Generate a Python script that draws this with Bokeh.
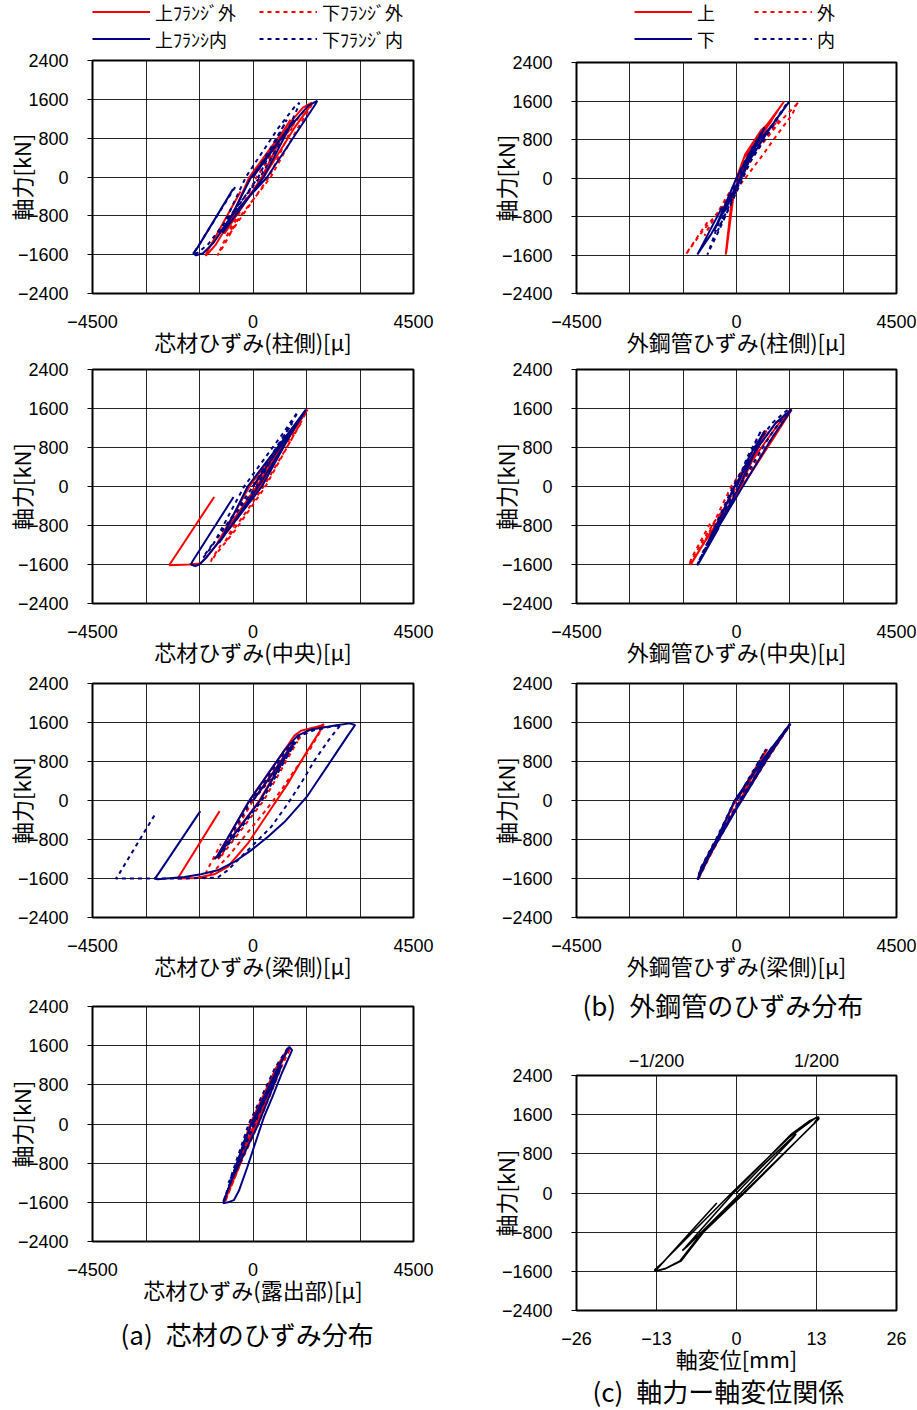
from bokeh.plotting import figure
from bokeh.models import FixedTicker, Legend, LegendItem, Title, LinearAxis
from bokeh.layouts import row, column
from bokeh.embed import file_html
from bokeh.resources import INLINE

RED = "#FF0000"
NAVY = "#000080"
JP = "Noto Sans CJK JP"
NUM = "Liberation Sans"
NAN = float("nan")

# ---------------- tick definitions ----------------
STRAIN_TICKS = [-4500, -3000, -1500, 0, 1500, 3000, 4500]
STRAIN_LABELS = ["−4500", "", "", "0", "", "", "4500"]
FORCE_TICKS = [-2400, -1600, -800, 0, 800, 1600, 2400]
FORCE_LABELS = ["−2400", "−1600", "−800", "0", "800", "1600", "2400"]
DISP_TICKS = [-26, -13, 0, 13, 26]
DISP_LABELS = ["−26", "−13", "0", "13", "26"]
DRIFT_TICKS = [-13, 13]
DRIFT_LABELS = ["−1/200", "1/200"]

# ---------------- legend labels (column-major: col 1 then col 2) ----------------
LEG_A = ["上ﾌﾗﾝｼﾞ外", "上ﾌﾗﾝｼ内", "下ﾌﾗﾝｼﾞ外", "下ﾌﾗﾝｼﾞ内"]
LEG_B = ["上", "下", "外", "内"]

# ---------------- panel (a1) 芯材ひずみ(柱側) ----------------
A1_RS_X = [0, 550, 1050, 1000, 250, -800, -760, -100, 900, 1400, 1650, 1600, 1150, 300, -600, -1050, -1250, -1330, -1300, -350]
A1_RS_Y = [0, 600, 1180, 1120, 0, -1170, -1100, 0, 1000, 1430, 1530, 1460, 1000, 0, -850, -1400, -1570, -1620, -1560, -300]
A1_RD_X = [0, 650, 1200, 1150, 450, -650, -620, 100, 1050, 1500, 1660, 1620, 1250, 500, -400, -850, -1000, -960, -300]
A1_RD_Y = [0, 600, 1180, 1110, 0, -1170, -1100, 0, 1000, 1430, 1515, 1450, 1000, 0, -850, -1450, -1615, -1560, -550]
A1_NS_X = [0, 600, 1150, 1080, 300, -850, -800, -50, 1000, 1550, 1800, 1750, 1300, 400, -600, -1100, -1400, -1600, -1675, -1550, -560]
A1_NS_Y = [0, 600, 1180, 1100, 0, -1150, -1080, 0, 1000, 1470, 1570, 1500, 1000, 0, -800, -1350, -1570, -1615, -1575, -1450, -250]
A1_ND_X = [0, 500, 950, 900, 150, -950, -900, -200, 700, 1150, 1300, 1280, 1000, 200, -700, -1250, -1550, -1675, -1600, -490]
A1_ND_Y = [0, 600, 1180, 1110, 0, -1170, -1100, 0, 1000, 1430, 1530, 1470, 1000, 0, -850, -1380, -1560, -1580, -1500, -195]

# ---------------- panel (a2) 芯材ひずみ(中央) ----------------
A2_RS_X = [0, 750, 1250, 1200, 100, -1000, -950, -100, 1000, 1509, 1480, 1000, 200, -700, -1300, -1480, -1800, -2350, -2300, -1089]
A2_RS_Y = [0, 800, 1300, 1240, 0, -1160, -1100, 0, 1100, 1575, 1530, 1000, 0, -900, -1450, -1580, -1600, -1615, -1560, -215]
A2_RD_X = [0, 850, 1350, 1300, 300, -800, -760, 50, 1100, 1530, 1500, 1100, 350, -500, -1050, -1180, -1150, -900]
A2_RD_Y = [0, 800, 1300, 1240, 0, -1160, -1100, 0, 1100, 1580, 1530, 1000, 0, -900, -1400, -1540, -1480, -1200]
A2_NS_X = [0, 750, 1250, 1200, 150, -950, -900, -150, 1000, 1480, 1460, 1000, 250, -700, -1300, -1500, -1620, -1740, -1700, -547]
A2_NS_Y = [0, 800, 1300, 1240, 0, -1160, -1100, 0, 1100, 1575, 1540, 1000, 0, -900, -1450, -1600, -1630, -1600, -1540, -215]
A2_ND_X = [0, 650, 1100, 1050, 0, -1100, -1050, -250, 850, 1250, 1230, 850, 100, -850, -1300, -1400, -1350, -1100]
A2_ND_Y = [0, 800, 1300, 1240, 0, -1160, -1100, 0, 1100, 1530, 1490, 1000, 0, -900, -1380, -1460, -1400, -1150]

# ---------------- panel (a3) 芯材ひずみ(梁側) ----------------
A3_RS_X = [0, 600, 1150, 1090, 180, -1000, -1080, -1000, -100, 900, 1160, 1347, 1908, 1983, 1900, 1441, 973, 412, -150, -711, -1085, -1600, -2114, -2050, -936]
A3_RS_Y = [0, 620, 1210, 1140, 0, -1150, -1200, -1140, 0, 1050, 1330, 1432, 1534, 1568, 1450, 920, 341, -273, -886, -1364, -1514, -1590, -1602, -1530, -218]
A3_RD_X = [0, 700, 1250, 1190, 300, -900, -980, -900, 0, 1000, 1400, 1700, 2002, 1950, 1600, 1160, 786, 318, -103, -700, -1100, -1366, -1300, -898]
A3_RD_Y = [0, 620, 1210, 1140, 0, -1150, -1200, -1140, 0, 1050, 1350, 1480, 1555, 1500, 1050, 614, 205, -239, -614, -1150, -1450, -1602, -1450, -886]
A3_NS_X = [0, 600, 1160, 1100, 200, -1000, -1085, -1000, -100, 900, 1250, 1600, 2300, 2704, 2863, 2657, 2376, 2096, 1815, 1534, 1254, 880, 412, -56, -524, -992, -1459, -1927, -2676, -2751, -2650, -1478]
A3_NS_Y = [0, 600, 1200, 1130, 0, -1150, -1200, -1140, 0, 1050, 1330, 1450, 1540, 1582, 1548, 1330, 1023, 716, 409, 102, -136, -443, -750, -1023, -1261, -1432, -1514, -1568, -1616, -1602, -1500, -218]
A3_ND_X = [0, 650, 1200, 1140, 250, -950, -1030, -950, -50, 950, 1300, 1700, 2330, 2470, 2400, 2143, 1721, 1394, 973, 505, -196, -711, -992, -2000, -3000, -3845, -3750, -2751]
A3_ND_Y = [0, 600, 1200, 1130, 0, -1150, -1200, -1140, 0, 1050, 1320, 1440, 1534, 1548, 1500, 1261, 818, 409, -68, -545, -1057, -1432, -1582, -1600, -1602, -1602, -1500, -290]

# ---------------- panel (a4) 芯材ひずみ(露出部) ----------------
A4_RS_X = [0, 480, 760, 720, 100, -600, -640, -590, -80, 650, 1000, 980, 700, 150, -350, -700, -810, -780, -350]
A4_RS_Y = [0, 750, 1200, 1130, 0, -1150, -1200, -1130, 0, 1150, 1570, 1520, 1100, 200, -700, -1350, -1600, -1540, -800]
A4_RD_X = [0, 520, 820, 780, 150, -560, -600, -550, -30, 700, 1050, 1020, 750, 200, -300, -650, -780, -750, -400]
A4_RD_Y = [0, 750, 1200, 1130, 0, -1150, -1200, -1130, 0, 1150, 1560, 1500, 1100, 200, -700, -1350, -1590, -1520, -900]
A4_NS_X = [0, 500, 800, 760, 150, -600, -650, -600, -50, 700, 1021, 1096, 816, 536, 303, 23, -163, -396, -536, -700, -835, -800, -180]
A4_NS_Y = [0, 750, 1200, 1120, 0, -1150, -1200, -1130, 0, 1150, 1576, 1508, 1052, 541, 133, -480, -889, -1365, -1556, -1600, -1617, -1560, -210]
A4_ND_X = [0, 450, 740, 700, 50, -650, -690, -640, -120, 620, 980, 960, 680, 120, -380, -720, -840, -810, -300]
A4_ND_Y = [0, 750, 1200, 1130, 0, -1150, -1200, -1130, 0, 1150, 1560, 1510, 1100, 200, -700, -1350, -1600, -1540, -600]

# ---------------- panel (b1) 外鋼管ひずみ(柱側) ----------------
B1_RS_X = [0, 250, 700, 1000, 900, 400, 50, -100, -50, 200, 700, 1100, 1335, 1250, 900, 400, 80, -150, -304, -280, -100]
B1_RS_Y = [0, 500, 1000, 1200, 1100, 600, 0, -400, -300, 400, 950, 1350, 1584, 1500, 1100, 500, 0, -560, -1591, -1500, -450]
B1_RD_X = [0, 400, 900, 1200, 1100, 500, 150, -600, -900, -850, -200, 500, 1200, 1756, 1700, 1569, 1054, 726, 250, -400, -1000, -1428, -1350, -800]
B1_RD_Y = [0, 500, 1000, 1200, 1100, 500, 0, -800, -1200, -1120, -300, 500, 1150, 1584, 1540, 1323, 809, 466, 0, -600, -1150, -1591, -1500, -900]
B1_NS_X = [0, 400, 800, 760, 100, -600, -640, -600, 0, 500, 1000, 1475, 1440, 1000, 350, -200, -700, -1100, -1050, -400]
B1_NS_Y = [0, 550, 1050, 1000, 0, -1050, -1100, -1040, 0, 650, 1100, 1584, 1540, 1100, 350, -500, -1150, -1591, -1520, -600]
B1_ND_X = [0, 380, 780, 740, 150, -500, -530, -490, 30, 550, 1000, 1428, 1400, 1000, 400, -100, -500, -820, -780, -300]
B1_ND_Y = [0, 550, 1050, 1000, 0, -1050, -1100, -1040, 0, 650, 1100, 1563, 1520, 1050, 350, -450, -1100, -1591, -1520, -500]

# ---------------- panel (b2) 外鋼管ひずみ(中央) ----------------
B2_RS_X = [0, 450, 850, 800, 100, -800, -850, -800, -50, 700, 1200, 1550, 1520, 1050, 250, -500, -1000, -1250, -1300, -1250, -700]
B2_RS_Y = [0, 600, 1150, 1090, 0, -1150, -1200, -1140, 0, 800, 1300, 1580, 1540, 1000, 100, -700, -1250, -1550, -1610, -1560, -900]
B2_RD_X = [0, 400, 800, 750, 0, -900, -950, -900, -150, 600, 1100, 1520, 1490, 1000, 200, -600, -1100, -1337, -1250, -700]
B2_RD_Y = [0, 600, 1150, 1090, 0, -1150, -1200, -1140, 0, 800, 1300, 1570, 1530, 1000, 100, -700, -1300, -1614, -1450, -700]
B2_NS_X = [0, 350, 800, 750, 80, -750, -800, -760, -60, 600, 1100, 1544, 1500, 1000, 300, -400, -900, -1103, -1050, -500]
B2_NS_Y = [0, 600, 1150, 1090, 0, -1150, -1200, -1140, 0, 800, 1300, 1580, 1530, 1000, 150, -700, -1350, -1620, -1560, -850]
B2_ND_X = [0, 300, 700, 650, 0, -800, -850, -800, -100, 500, 1000, 1450, 1420, 950, 200, -500, -950, -1100, -1050, -550]
B2_ND_Y = [0, 600, 1150, 1090, 0, -1150, -1200, -1140, 0, 800, 1300, 1580, 1530, 1050, 150, -700, -1350, -1600, -1520, -800]

# ---------------- panel (b3) 外鋼管ひずみ(梁側) ----------------
B3_RS_X = [0, 400, 850, 800, 100, -750, -800, -750, -30, 750, 1510, 1480, 900, 120, -600, -1000, -1080, -1050, -600]
B3_RS_Y = [0, 500, 1050, 1000, 0, -1100, -1150, -1090, 0, 800, 1575, 1530, 900, 0, -850, -1400, -1620, -1560, -900]
B3_RD_X = [0, 420, 870, 820, 120, -720, -770, -720, -10, 770, 1520, 1490, 920, 140, -580, -980, -1060, -1030, -580]
B3_RD_Y = [0, 500, 1050, 1000, 0, -1100, -1150, -1090, 0, 800, 1575, 1530, 900, 0, -850, -1400, -1610, -1550, -900]
B3_NS_X = [0, 250, 714, 1000, 950, 300, -700, -750, -700, -50, 700, 1513, 1480, 900, 150, -600, -1000, -1090, -1050, -600]
B3_NS_Y = [0, 330, 788, 1100, 1040, 200, -1050, -1100, -1040, 0, 800, 1577, 1530, 900, 0, -850, -1400, -1625, -1560, -900]
B3_ND_X = [0, 380, 830, 780, 80, -770, -820, -770, -50, 730, 1500, 1470, 880, 100, -620, -1020, -1090, -1060, -620]
B3_ND_Y = [0, 500, 1050, 1000, 0, -1100, -1150, -1090, 0, 800, 1575, 1530, 900, 0, -850, -1400, -1625, -1560, -900]

# ---------------- panel (c) 軸力-軸変位 ----------------
C_X = [0, 4.6, 9.7, 9.2, 0.7, -8.0, -8.8, -8.3, -0.5, 8.8, 11.8, 13.3, 13.4, 12.5, 1.1, -5.5, -9.2, -11.6, -13.2,
       -13.3, -12.0, -0.8, 8.5, 12.8, 13.3, 12.6, 1.3, -5.3, -9.0, -11.5, -13.2, -13.0, -3.2]
C_Y = [0, 600, 1210, 1130, 0, -1090, -1175, -1110, 0, 1190, 1470, 1555, 1520, 1400, 0, -790, -1390, -1545, -1595,
       -1570, -1420, 0, 1130, 1530, 1555, 1420, 0, -790, -1390, -1545, -1600, -1565, -205]


def make_panel(w, h, left, right, top, bottom, xr, xticks, xlabels, xlabel):
    p = figure(width=w, height=h, x_range=xr, y_range=(-2400, 2400),
               output_backend="svg", toolbar_location=None,
               min_border_left=left, min_border_right=right,
               min_border_top=top, min_border_bottom=bottom)
    p.background_fill_color = "white"
    p.border_fill_color = "white"
    p.outline_line_color = "black"
    p.outline_line_width = 2
    p.xaxis.ticker = FixedTicker(ticks=xticks)
    p.yaxis.ticker = FixedTicker(ticks=FORCE_TICKS)
    p.xaxis.major_label_overrides = dict(zip(xticks, xlabels))
    p.yaxis.major_label_overrides = dict(zip(FORCE_TICKS, FORCE_LABELS))
    p.grid.grid_line_color = "black"
    p.grid.grid_line_width = 1
    p.grid.grid_line_alpha = 0.85
    for ax in (p.xaxis, p.yaxis):
        ax.axis_line_color = None
        ax.minor_tick_line_color = None
        ax.major_tick_in = 0
        ax.major_label_text_font = NUM
        ax.major_label_text_font_size = "18px"
        ax.major_label_text_color = "black"
        ax.axis_label_text_font = JP
        ax.axis_label_text_font_size = "22px"
        ax.axis_label_text_font_style = "normal"
        ax.axis_label_text_color = "black"
    p.xaxis.major_tick_out = 0
    p.xaxis.major_label_standoff = 21
    p.xaxis.axis_label = xlabel
    p.xaxis.axis_label_standoff = -6
    p.yaxis.major_tick_out = 5
    p.yaxis.major_tick_line_color = "black"
    p.yaxis.major_label_standoff = 19
    p.yaxis.axis_label = "軸力[kN]"
    p.yaxis.axis_label_standoff = -22
    return p


def draw4(p, rs, rd, ns, nd):
    p.line(rs[0], rs[1], line_color=RED, line_width=2)
    p.line(rd[0], rd[1], line_color=RED, line_width=2, line_dash="4 4")
    p.line(ns[0], ns[1], line_color=NAVY, line_width=2)
    p.line(nd[0], nd[1], line_color=NAVY, line_width=2, line_dash="4 4")


def legend_figure(w, h, left, right, labels, label_width, vx):
    """Frameless strip carrying the series key (borders match its column's panels)."""
    p = figure(width=w, height=h, x_range=(0, 1), y_range=(0, 1), title=None,
               x_axis_type=None, y_axis_type=None,
               output_backend="svg", toolbar_location=None,
               min_border_left=left, min_border_top=0, min_border_right=right, min_border_bottom=0)
    p.outline_line_color = None
    p.background_fill_color = "white"
    p.border_fill_color = "white"
    keys = [p.line([NAN, NAN], [NAN, NAN], line_color=RED, line_width=2),
            p.line([NAN, NAN], [NAN, NAN], line_color=NAVY, line_width=2),
            p.line([NAN, NAN], [NAN, NAN], line_color=RED, line_width=2, line_dash="4 4"),
            p.line([NAN, NAN], [NAN, NAN], line_color=NAVY, line_width=2, line_dash="4 4")]
    leg = Legend(items=[LegendItem(label=l, renderers=[r]) for l, r in zip(labels, keys)],
                 location=(vx, 0), orientation="vertical", ncols=2,
                 glyph_width=58, glyph_height=27, label_height=27, label_width=label_width,
                 label_standoff=5, spacing=-2, padding=0, margin=0, border_line_color=None,
                 background_fill_alpha=0, label_text_font=JP, label_text_font_size="18px",
                 label_text_color="black")
    p.add_layout(leg)
    return p


def caption(p, text, standoff, offset):
    t = Title(text=text, align="left", text_font=JP, text_font_size="26px",
              text_font_style="normal", text_color="black", standoff=standoff, offset=offset)
    p.add_layout(t, "below")


SX = (-4500, 4500)
# left column (page x 0-460)
leg_a = legend_figure(460, 52, 92, 47, LEG_A, 104, 0)

a1 = make_panel(460, 307, 92, 47, 8, 65, SX, STRAIN_TICKS, STRAIN_LABELS, "芯材ひずみ(柱側)[μ]")
draw4(a1, (A1_RS_X, A1_RS_Y), (A1_RD_X, A1_RD_Y), (A1_NS_X, A1_NS_Y), (A1_ND_X, A1_ND_Y))

a2 = make_panel(460, 313, 92, 47, 10, 69, SX, STRAIN_TICKS, STRAIN_LABELS, "芯材ひずみ(中央)[μ]")
draw4(a2, (A2_RS_X, A2_RS_Y), (A2_RD_X, A2_RD_Y), (A2_NS_X, A2_NS_Y), (A2_ND_X, A2_ND_Y))

a3 = make_panel(460, 318, 92, 47, 11, 73, SX, STRAIN_TICKS, STRAIN_LABELS, "芯材ひずみ(梁側)[μ]")
draw4(a3, (A3_RS_X, A3_RS_Y), (A3_RD_X, A3_RD_Y), (A3_NS_X, A3_NS_Y), (A3_ND_X, A3_ND_Y))

a4 = make_panel(460, 418, 92, 47, 16, 167, SX, STRAIN_TICKS, STRAIN_LABELS, "芯材ひずみ(露出部)[μ]")
draw4(a4, (A4_RS_X, A4_RS_Y), (A4_RD_X, A4_RD_Y), (A4_NS_X, A4_NS_Y), (A4_ND_X, A4_ND_Y))
caption(a4, "(a)\u2002芯材のひずみ分布", 10, 28)

# right column (page x 460-916)
leg_b = legend_figure(456, 52, 116, 20, LEG_B, 57, 58)

b1 = make_panel(456, 307, 116, 20, 10, 64, SX, STRAIN_TICKS, STRAIN_LABELS, "外鋼管ひずみ(柱側)[μ]")
draw4(b1, (B1_RS_X, B1_RS_Y), (B1_RD_X, B1_RD_Y), (B1_NS_X, B1_NS_Y), (B1_ND_X, B1_ND_Y))

b2 = make_panel(456, 313, 116, 20, 10, 69, SX, STRAIN_TICKS, STRAIN_LABELS, "外鋼管ひずみ(中央)[μ]")
draw4(b2, (B2_RS_X, B2_RS_Y), (B2_RD_X, B2_RD_Y), (B2_NS_X, B2_NS_Y), (B2_ND_X, B2_ND_Y))

b3 = make_panel(456, 358, 116, 20, 11, 113, SX, STRAIN_TICKS, STRAIN_LABELS, "外鋼管ひずみ(梁側)[μ]")
draw4(b3, (B3_RS_X, B3_RS_Y), (B3_RD_X, B3_RD_Y), (B3_NS_X, B3_NS_Y), (B3_ND_X, B3_ND_Y))
caption(b3, "(b)\u2002外鋼管のひずみ分布", 1, 6)

c = make_panel(456, 379, 116, 20, 45, 99, (-26, 26), DISP_TICKS, DISP_LABELS, "軸変位[mm]")
c.line(C_X, C_Y, line_color="black", line_width=1.6)
top_ax = LinearAxis(ticker=FixedTicker(ticks=DRIFT_TICKS),
                    major_label_overrides=dict(zip(DRIFT_TICKS, DRIFT_LABELS)),
                    axis_line_color=None, major_tick_out=0, major_tick_in=0,
                    minor_tick_line_color=None, major_label_standoff=5,
                    major_label_text_font=NUM, major_label_text_font_size="18px",
                    major_label_text_color="black")
c.add_layout(top_ax, "above")
caption(c, "(c)\u2002軸力ー軸変位関係", -14, 16)

layout = row(column(leg_a, a1, a2, a3, a4), column(leg_b, b1, b2, b3, c))
open("out.html", "w").write(file_html(layout, INLINE))
